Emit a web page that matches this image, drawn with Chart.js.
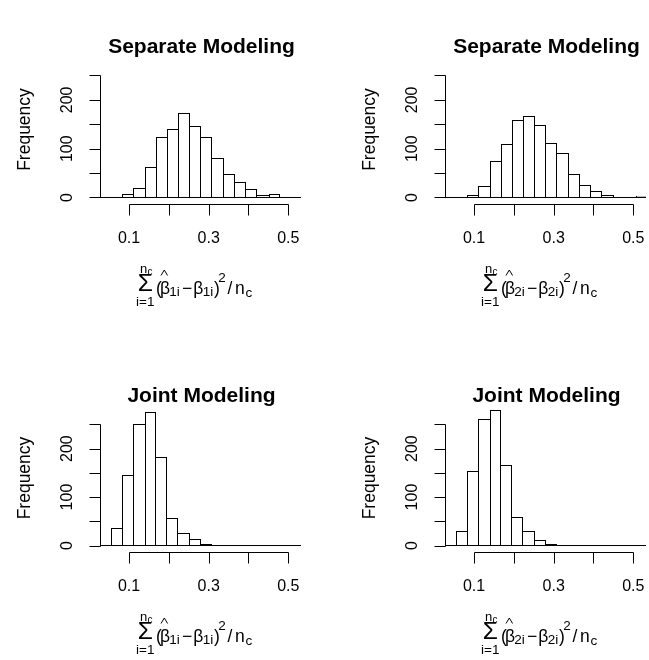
<!DOCTYPE html>
<html>
<head>
<meta charset="utf-8">
<script src="https://cdn.jsdelivr.net/npm/chart.js@4.4.1/dist/chart.umd.min.js"></script>
<style>
  html, body { margin: 0; padding: 0; background: #ffffff; }
  #wrap { position: relative; width: 649px; height: 660px; overflow: hidden; background: #ffffff; }
  canvas { position: absolute; }
</style>
</head>
<body>
<div id="wrap">
  <canvas id="p1" width="324" height="330" style="left:0px;top:0px"></canvas>
  <canvas id="p2" width="325" height="330" style="left:324px;top:0px"></canvas>
  <canvas id="p3" width="324" height="330" style="left:0px;top:330px"></canvas>
  <canvas id="p4" width="325" height="330" style="left:324px;top:330px"></canvas>
</div>
<script>
// Histogram break points shared by all four panels
const binEdges = [0.0257, 0.0540, 0.0824, 0.1107, 0.1390, 0.1674, 0.1957, 0.2240, 0.2524, 0.2807,
                  0.3090, 0.3374, 0.3657, 0.3940, 0.4224, 0.4507, 0.4790, 0.5074, 0.5357];

// Bin counts (frequency) for each panel
const countsSeparateB1 = [0, 0, 8, 20, 63, 123, 141, 173, 146, 123, 80, 48, 31, 17, 5, 8, 2, 0];
const countsSeparateB2 = [0, 0, 5, 23, 75, 109, 158, 166, 149, 112, 91, 49, 26, 14, 6, 2, 0, 3];
const countsJointB1    = [0, 36, 145, 251, 276, 183, 56, 26, 14, 3, 2, 0, 0, 0, 0, 0, 0, 0];
const countsJointB2    = [0, 29, 154, 262, 279, 166, 59, 29, 12, 3, 0, 0, 0, 0, 0, 0, 0, 0];

// Axis ticks and their printed labels
const xTicks = [0.1, 0.2, 0.3, 0.4, 0.5];
const xTickLabels = ['0.1', '', '0.3', '', '0.5'];
const yTicks = [0, 50, 100, 150, 200, 250];
const yTickLabels = ['0', '', '100', '', '200', ''];

const panelTitles = ['Separate Modeling', 'Separate Modeling', 'Joint Modeling', 'Joint Modeling'];
const betaIndex = ['1', '2', '1', '2'];
const yAxisTitle = 'Frequency';

// Plot window (value range covered by the plotting region)
const X_MIN = 0.027, X_MAX = 0.532;
const Y_MIN = -13.35, Y_MAX = 292;

const FONT = '"Liberation Sans", Arial, Helvetica, sans-serif';

// Snap bar rectangles to whole pixels so the outlines stay crisp
const snapBars = {
  id: 'snapBars',
  afterDatasetsUpdate(chart) {
    chart.data.datasets.forEach((ds, i) => {
      const meta = chart.getDatasetMeta(i);
      if (meta.type !== 'bar') return;
      meta.data.forEach(el => {
        const l = Math.round(el.x - el.width / 2);
        const r = Math.round(el.x + el.width / 2);
        el.x = (l + r) / 2;
        el.width = r - l;
        el.base = Math.round(el.base);
        el.y = Math.round(el.y);
      });
    });
  }
};

// Draws base-graphics style axes, labels, title and the summation x label
const baseAxes = {
  id: 'baseAxes',
  afterDraw(chart, args, opts) {
    const { ctx, chartArea: a, scales: { x, y } } = chart;
    ctx.save();
    ctx.strokeStyle = '#000';
    ctx.fillStyle = '#000';
    ctx.lineWidth = 1;

    // x axis: line between first and last tick, ticks pointing down
    const yb = Math.round(a.bottom) + 0.5;
    const xs = x.ticks.map(t => Math.round(x.getPixelForValue(t.value)) + 0.5);
    ctx.beginPath();
    ctx.moveTo(xs[0], yb); ctx.lineTo(xs[xs.length - 1], yb);
    xs.forEach(px => { ctx.moveTo(px, yb); ctx.lineTo(px, yb + 11); });
    // y axis: line between first and last tick, ticks pointing left
    const xl = Math.round(a.left) + 0.5;
    const ys = y.ticks.map(t => Math.round(y.getPixelForValue(t.value)) + 0.5);
    ctx.moveTo(xl, ys[0]); ctx.lineTo(xl, ys[ys.length - 1]);
    ys.forEach(py => { ctx.moveTo(xl, py); ctx.lineTo(xl - 11, py); });
    ctx.stroke();

    // tick labels
    ctx.font = '16px ' + FONT;
    ctx.textAlign = 'center';
    ctx.textBaseline = 'alphabetic';
    x.ticks.forEach(t => {
      const lab = xTickLabels[xTicks.indexOf(t.value)];
      if (lab) ctx.fillText(lab, x.getPixelForValue(t.value), a.bottom + 38.5);
    });
    y.ticks.forEach(t => {
      const lab = yTickLabels[yTicks.indexOf(t.value)];
      if (lab) {
        ctx.save();
        ctx.translate(a.left - 28, y.getPixelForValue(t.value));
        ctx.rotate(-Math.PI / 2);
        ctx.fillText(lab, 0, 0);
        ctx.restore();
      }
    });

    // y axis title
    ctx.save();
    ctx.font = '17.5px ' + FONT;
    ctx.translate(a.left - 70.5, (a.top + a.bottom) / 2);
    ctx.rotate(-Math.PI / 2);
    ctx.fillText(yAxisTitle, 0, 0);
    ctx.restore();

    // main title
    const cx = (a.left + a.right) / 2;
    ctx.font = 'bold 21px ' + FONT;
    ctx.fillText(opts.title, cx + 1, a.top - 2);

    // x label: sum_{i=1}^{n_c} (beta-hat_ki - beta_ki)^2 / n_c
    const x0 = cx - 64.5;
    const bl = a.bottom + 89.5;
    const k = opts.beta;
    ctx.textAlign = 'left';
    const put = (txt, dx, dy, size) => {
      ctx.font = size + 'px ' + FONT;
      ctx.fillText(txt, x0 + dx, bl + dy);
    };
    put('\u03A3', 1.8, -2.5, 24.5);
    put('n', 4, -21, 13);
    put('c', 11.5, -19, 10);
    put('i=1', 0, 12.5, 13.5);
    put('(', 20, 0, 17.5);
    put('\u03B2', 24, 0, 17.5);
    put(k + 'i', 33.3, 2.5, 13.5);
    put('\u2212', 46, 0, 17.5);
    put('\u03B2', 57.3, 0, 17.5);
    put(k + 'i', 66.7, 2.5, 13.5);
    put(')', 78, 0, 17.5);
    put('2', 82.3, -11.5, 13.5);
    put('/', 91.5, 0, 17.5);
    put('n', 99, 0, 17.5);
    put('c', 109.5, 3, 13.5);
    // hat over the first beta
    ctx.beginPath();
    ctx.moveTo(x0 + 25, bl - 18);
    ctx.lineTo(x0 + 28.3, bl - 23.5);
    ctx.lineTo(x0 + 31.6, bl - 18);
    ctx.stroke();

    ctx.restore();
  }
};

function makePanel(id, counts, padding, title, beta) {
  const points = counts.map((c, i) => ({ x: (binEdges[i] + binEdges[i + 1]) / 2, y: c }));
  const last = counts.length - 1;
  return new Chart(document.getElementById(id), {
    type: 'bar',
    data: {
      datasets: [
        {
          type: 'bar',
          data: points,
          backgroundColor: '#ffffff',
          borderColor: '#000000',
          // shared edges are drawn once, by the taller neighbour
          borderWidth: (c) => {
            const i = c.dataIndex;
            const v = counts[i];
            const left = (i === 0 || counts[i - 1] < v) ? 1 : 0;
            const right = (i === last || counts[i + 1] <= v) ? 1 : 0;
            return { top: 1, left: left, right: right, bottom: 0 };
          },
          borderSkipped: 'start',
          barPercentage: 1,
          categoryPercentage: 1,
          inflateAmount: 0,
          clip: 0,
          order: 1
        },
        {
          type: 'line',
          data: [{ x: binEdges[0], y: 0 }, { x: binEdges[binEdges.length - 1], y: 0 }],
          borderColor: '#000000',
          borderWidth: 1,
          pointRadius: 0,
          fill: false,
          clip: 0,
          order: 0
        }
      ]
    },
    options: {
      responsive: false,
      animation: false,
      devicePixelRatio: 1,
      events: [],
      layout: { padding: padding },
      plugins: {
        legend: { display: false },
        tooltip: { enabled: false },
        title: { display: false },
        baseAxes: { title: title, beta: beta }
      },
      scales: {
        x: {
          type: 'linear', min: X_MIN, max: X_MAX, offset: false, display: false,
          afterBuildTicks: s => { s.ticks = xTicks.map(v => ({ value: v })); }
        },
        y: {
          type: 'linear', min: Y_MIN, max: Y_MAX, display: false,
          afterBuildTicks: s => { s.ticks = yTicks.map(v => ({ value: v })); }
        }
      }
    },
    plugins: [snapBars, baseAxes]
  });
}

makePanel('p1', countsSeparateB1, { left: 100, right: 23, top: 55, bottom: 126 }, panelTitles[0], betaIndex[0]);
makePanel('p2', countsSeparateB2, { left: 121, right: 3, top: 55, bottom: 126 }, panelTitles[1], betaIndex[1]);
makePanel('p3', countsJointB1, { left: 100, right: 23, top: 74, bottom: 108 }, panelTitles[2], betaIndex[2]);
makePanel('p4', countsJointB2, { left: 121, right: 3, top: 74, bottom: 108 }, panelTitles[3], betaIndex[3]);
</script>
</body>
</html>
